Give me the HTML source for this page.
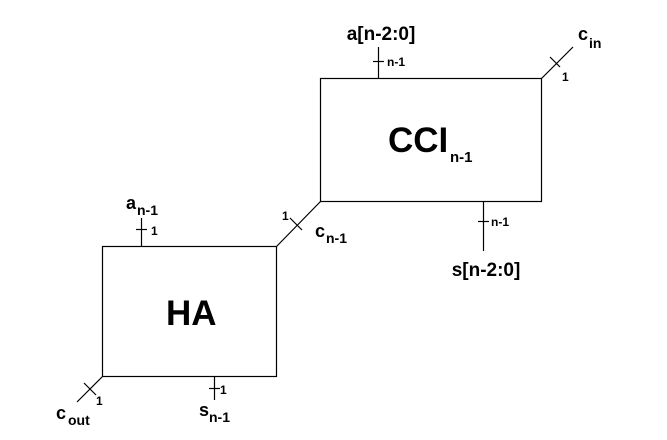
<!DOCTYPE html>
<html><head><meta charset="utf-8"><style>
html,body{margin:0;padding:0;background:#fff;}
svg{display:block;}
text{font-family:"Liberation Sans",Arial,sans-serif;font-weight:bold;fill:#000;}
</style></head><body>
<svg width="667" height="440" viewBox="0 0 667 440" xmlns="http://www.w3.org/2000/svg">
<g stroke="#000" stroke-width="1.2" fill="none">
<rect x="320.5" y="78.5" width="221" height="123"/>
<rect x="102.5" y="246.5" width="174" height="130"/>
<line x1="378.5" y1="47" x2="378.5" y2="78"/>
<line x1="373" y1="61.5" x2="384" y2="61.5"/>
<line x1="541.5" y1="78.5" x2="573" y2="47"/>
<line x1="550" y1="57" x2="560" y2="67"/>
<line x1="483.5" y1="201" x2="483.5" y2="251"/>
<line x1="478" y1="221.5" x2="489" y2="221.5"/>
<line x1="320.5" y1="201.5" x2="276.5" y2="246.5"/>
<line x1="290" y1="218" x2="302" y2="230"/>
<line x1="141.5" y1="218" x2="141.5" y2="246"/>
<line x1="136" y1="229.5" x2="147" y2="229.5"/>
<line x1="214.5" y1="377" x2="214.5" y2="400"/>
<line x1="209" y1="388.5" x2="220" y2="388.5"/>
<line x1="102.5" y1="376.5" x2="77" y2="402"/>
<line x1="84" y1="383" x2="96" y2="395"/>
</g>
<text x="388" y="152" font-size="35">CCI</text>
<text x="450" y="162" font-size="15">n-1</text>
<text x="166" y="325" font-size="35">HA</text>
<text x="381" y="40" font-size="19" text-anchor="middle">a[n-2:0]</text>
<text x="387" y="66" font-size="12">n-1</text>
<text x="578" y="40" font-size="18">c</text>
<text x="589" y="48" font-size="14">in</text>
<text x="562" y="81" font-size="12">1</text>
<text x="491" y="226" font-size="12">n-1</text>
<text x="486" y="276" font-size="19" text-anchor="middle">s[n-2:0]</text>
<text x="282" y="220" font-size="12">1</text>
<text x="315" y="237" font-size="18">c</text>
<text x="326" y="243" font-size="14">n-1</text>
<text x="126" y="209" font-size="18">a</text>
<text x="137" y="215" font-size="14">n-1</text>
<text x="151" y="235" font-size="12">1</text>
<text x="220" y="394" font-size="12">1</text>
<text x="199" y="416" font-size="18">s</text>
<text x="209" y="422" font-size="14">n-1</text>
<text x="96" y="405" font-size="12">1</text>
<text x="56" y="419" font-size="18">c</text>
<text x="68" y="425" font-size="14">out</text>
</svg>
</body></html>
